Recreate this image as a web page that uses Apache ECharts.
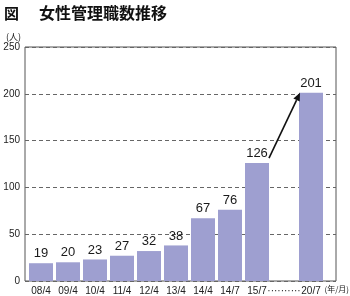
<!DOCTYPE html>
<html><head><meta charset="utf-8">
<script src="https://cdn.jsdelivr.net/npm/echarts@6/dist/echarts.min.js"></script>
<style>html,body{margin:0;padding:0;background:#fff}#c{width:350px;height:296px}</style>
</head><body><div id="c"></div>
<script>
const categories = ['08/4','09/4','10/4','11/4','12/4','13/4','14/4','14/7','15/7','··········','20/7'];
const values = [19,20,23,27,32,38,67,76,126,null,201];
const yTicks = [0,50,100,150,200,250];
const arrowFrom = ['15/7',126];
const arrowTo = ['20/7',201];

const chart = echarts.init(document.getElementById('c'), null, {renderer:'canvas'});
const font = '"Liberation Sans", Arial, sans-serif';
const cjk = '"Noto Sans CJK JP", sans-serif';
const BAR_W = 24;
chart.setOption({
  animation:false,
  backgroundColor:'#fff',
  grid:[
    {left:25, right:14, top:47, bottom:15, show:true, borderColor:'#555', borderWidth:1, backgroundColor:'transparent'},
    {left:27.5, width:297, top:47, bottom:15}
  ],
  xAxis:[
    {gridIndex:0, type:'category', data:categories, show:false},
    {gridIndex:1, type:'category', data:categories,
     axisLine:{show:false}, axisTick:{show:false},
     axisLabel:{interval:0, margin:5, fontSize:10, color:'#222', fontFamily:font}}
  ],
  yAxis:[
    {gridIndex:0, type:'value', min:yTicks[0], max:yTicks[yTicks.length-1], interval:50,
     axisLine:{show:false}, axisTick:{show:false},
     axisLabel:{fontSize:10, color:'#222', margin:5, fontFamily:font},
     splitLine:{show:true, lineStyle:{color:'#666', type:[4,3], width:1}}},
    {gridIndex:1, type:'value', min:yTicks[0], max:yTicks[yTicks.length-1], show:false, splitLine:{show:false}}
  ],
  series:[
    {type:'bar', xAxisIndex:1, yAxisIndex:1, data:values, barWidth:BAR_W,
     itemStyle:{color:'#9e9fd0'},
     label:{show:true, position:'top', distance:3, fontSize:13, color:'#1a1a1a', fontFamily:font}},
    {type:'custom', xAxisIndex:1, yAxisIndex:1, silent:true, z:5,
     data:[[categories.indexOf(arrowFrom[0]), arrowFrom[1], categories.indexOf(arrowTo[0]), arrowTo[1]]],
     encode:{x:[0,2], y:[1,3]},
     renderItem:function(params, api){
       const p0 = api.coord([api.value(0), api.value(1)]);
       const p1 = api.coord([api.value(2), api.value(3)]);
       const x0 = p0[0] + BAR_W/2, y0 = p0[1] - 5;
       const x1 = p1[0] - BAR_W/2 + 1, y1 = p1[1];
       const ang = Math.atan2(y1-y0, x1-x0);
       const L = 8, W = 3.5;
       const bx = x1 - L*Math.cos(ang), by = y1 - L*Math.sin(ang);
       const nx = -Math.sin(ang), ny = Math.cos(ang);
       return {type:'group', children:[
         {type:'line', shape:{x1:x0, y1:y0, x2:bx, y2:by}, style:{stroke:'#111', lineWidth:1.6}},
         {type:'polygon', shape:{points:[[x1,y1],[bx+nx*W,by+ny*W],[bx-nx*W,by-ny*W]]}, style:{fill:'#111'}}
       ]};
     }}
  ],
  graphic:[
    {type:'text', left:4, top:6, style:{text:'図', font:'bold 15px '+cjk, fill:'#111'}},
    {type:'text', left:39, top:5, style:{text:'女性管理職数推移', font:'bold 16px '+cjk, fill:'#111'}},
    {type:'text', left:6, top:32, style:{text:'(人)', font:'9px '+cjk, fill:'#222'}},
    {type:'text', right:1, top:285, style:{text:'(年/月)', font:'8px '+cjk, fill:'#222'}}
  ]
});
</script></body></html>
